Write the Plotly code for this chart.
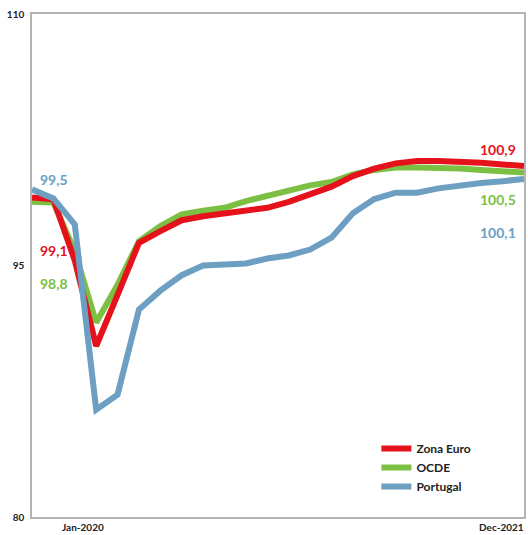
import plotly.graph_objects as go

# Monthly index, Jan-2020 .. Dec-2021 (24 points)
months = ["Jan-2020", "Feb-2020", "Mar-2020", "Apr-2020", "May-2020", "Jun-2020",
          "Jul-2020", "Aug-2020", "Sep-2020", "Oct-2020", "Nov-2020", "Dec-2020",
          "Jan-2021", "Feb-2021", "Mar-2021", "Apr-2021", "May-2021", "Jun-2021",
          "Jul-2021", "Aug-2021", "Sep-2021", "Oct-2021", "Nov-2021", "Dec-2021"]

zona_euro = [99.06, 98.95, 95.3, 90.2, 93.25, 96.35, 97.05, 97.7, 97.94, 98.1, 98.24, 98.44,
             98.8, 99.24, 99.7, 100.33, 100.78, 101.09, 101.23, 101.23, 101.21, 101.13, 101.03, 100.93]
ocde = [98.8, 98.76, 95.85, 91.6, 93.85, 96.45, 97.35, 98.05, 98.27, 98.44, 98.84, 99.14,
        99.44, 99.78, 99.98, 100.44, 100.7, 100.84, 100.84, 100.84, 100.78, 100.7, 100.6, 100.54]
portugal = [99.54, 99.0, 97.45, 86.4, 87.3, 92.37, 93.5, 94.42, 95.0, 95.06, 95.12, 95.42,
            95.6, 95.95, 96.66, 98.12, 98.96, 99.34, 99.34, 99.6, 99.8, 99.92, 100.03, 100.16]

start_labels = [99.5, 99.1, 98.8]   # Portugal, Zona Euro, OCDE
end_labels = [100.9, 100.5, 100.1]  # Zona Euro, OCDE, Portugal

y_ticks = [80, 95, 110]
x_tick_labels = ["Jan-2020", "Dec-2021"]

RED = "#e5121b"
GREEN = "#7cc043"
BLUE = "#6d9fc2"
FONT = "Lato"

def fmt(v):
    return f"{v:.1f}".replace(".", ",")

x = list(range(len(months)))

fig = go.Figure()
fig.add_trace(go.Scatter(x=x, y=ocde, name="OCDE", mode="lines",
                         line=dict(color=GREEN, width=6), customdata=months,
                         legendrank=2))
fig.add_trace(go.Scatter(x=x, y=zona_euro, name="Zona Euro", mode="lines",
                         line=dict(color=RED, width=6), customdata=months,
                         legendrank=1))
fig.add_trace(go.Scatter(x=x, y=portugal, name="Portugal", mode="lines",
                         line=dict(color=BLUE, width=6), customdata=months,
                         legendrank=3))

annotations = []
# start value labels
for txt, yv, col in zip(start_labels, [100.1, 95.9, 93.95], [BLUE, RED, GREEN]):
    annotations.append(dict(x=0.012, xref="paper", y=yv, yref="y", text=fmt(txt),
                            showarrow=False, xanchor="left", yanchor="middle",
                            font=dict(family=FONT, size=14, color=col, weight=700)))
# end value labels
for txt, yv, col in zip(end_labels, [101.9, 98.95, 96.95], [RED, GREEN, BLUE]):
    annotations.append(dict(x=0.988, xref="paper", y=yv, yref="y", text=fmt(txt),
                            showarrow=False, xanchor="right", yanchor="middle",
                            font=dict(family=FONT, size=14, color=col, weight=700)))
# x tick labels
annotations.append(dict(x=0.057, xref="paper", y=0, yref="paper", yshift=-10,
                        text=x_tick_labels[0], showarrow=False, xanchor="left",
                        yanchor="middle",
                        font=dict(family=FONT, size=10, color="#222", weight=700)))
annotations.append(dict(x=1.004, xref="paper", y=0, yref="paper", yshift=-10,
                        text=x_tick_labels[1], showarrow=False, xanchor="right",
                        yanchor="middle",
                        font=dict(family=FONT, size=10, color="#222", weight=700)))

fig.update_layout(
    width=528, height=535,
    margin=dict(l=32, r=2, t=14, b=18),
    paper_bgcolor="white", plot_bgcolor="white",
    showlegend=True,
    legend=dict(x=0.70, y=0.165, xanchor="left", yanchor="top",
                bgcolor="rgba(255,255,255,0)", traceorder="normal",
                font=dict(family=FONT, size=12, color="#222", weight=700),
                itemwidth=30, tracegroupgap=0),
    annotations=annotations,
    xaxis=dict(range=[0, len(months) - 1], showticklabels=False, ticks="",
               showgrid=False, zeroline=False, showline=True, mirror=True,
               linecolor="#b3b3b3", linewidth=1.5),
    yaxis=dict(range=[80, 110], tickvals=y_ticks, ticktext=[str(v) for v in y_ticks],
               ticks="", showgrid=False, zeroline=False, showline=True, mirror=True,
               linecolor="#b3b3b3", linewidth=1.5, ticklabelstandoff=4,
               ticklabeloverflow="allow",
               tickfont=dict(family=FONT, size=10, color="#222", weight=700)),
)

fig.write_html("out.html",
               config={"displayModeBar": False},
               post_script="document.body.style.margin='0';"
                           "document.body.style.overflow='hidden';")
